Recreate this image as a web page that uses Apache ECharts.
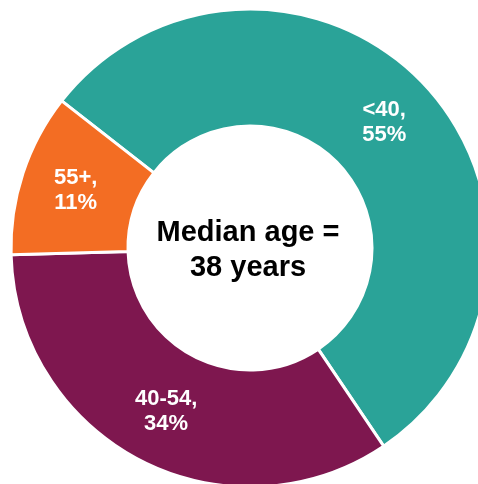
<!DOCTYPE html>
<html>
<head>
<meta charset="utf-8">
<script src="https://cdn.jsdelivr.net/npm/echarts@6/dist/echarts.min.js"></script>
<style>
html,body{margin:0;padding:0;background:#fff;}
#chart{width:478px;height:484px;}
</style>
</head>
<body>
<div id="chart"></div>
<script>
const categories = ['<40', '40-54', '55+'];
const values = [55, 34, 11];
const colors = ['#2AA398', '#7E174F', '#F36D23'];
const centerText = 'Median age =\n38 years';

const chart = echarts.init(document.getElementById('chart'), null, {renderer: 'canvas'});
chart.setOption({
  animation: false,
  backgroundColor: '#ffffff',
  series: [{
    type: 'pie',
    center: [250, 248],
    radius: [122, 239],
    startAngle: 142,
    clockwise: true,
    avoidLabelOverlap: false,
    itemStyle: {borderColor: '#ffffff', borderWidth: 3},
    label: {
      show: true,
      position: 'inside',
      formatter: '{b},\n{c}%',
      color: '#ffffff',
      fontFamily: 'Liberation Sans, Arial, sans-serif',
      fontWeight: 'bold',
      fontSize: 22,
      lineHeight: 25,
      align: 'center'
    },
    labelLine: {show: false},
    emphasis: {disabled: true},
    data: categories.map((c, i) => ({name: c, value: values[i], itemStyle: {color: colors[i]}}))
  }],
  graphic: [{
    type: 'text',
    x: 248,
    y: 250,
    style: {
      text: centerText,
      align: 'center',
      verticalAlign: 'middle',
      fill: '#000000',
      font: 'bold 29px "Liberation Sans", Arial, sans-serif',
      lineHeight: 35
    }
  }]
});
</script>
</body>
</html>
